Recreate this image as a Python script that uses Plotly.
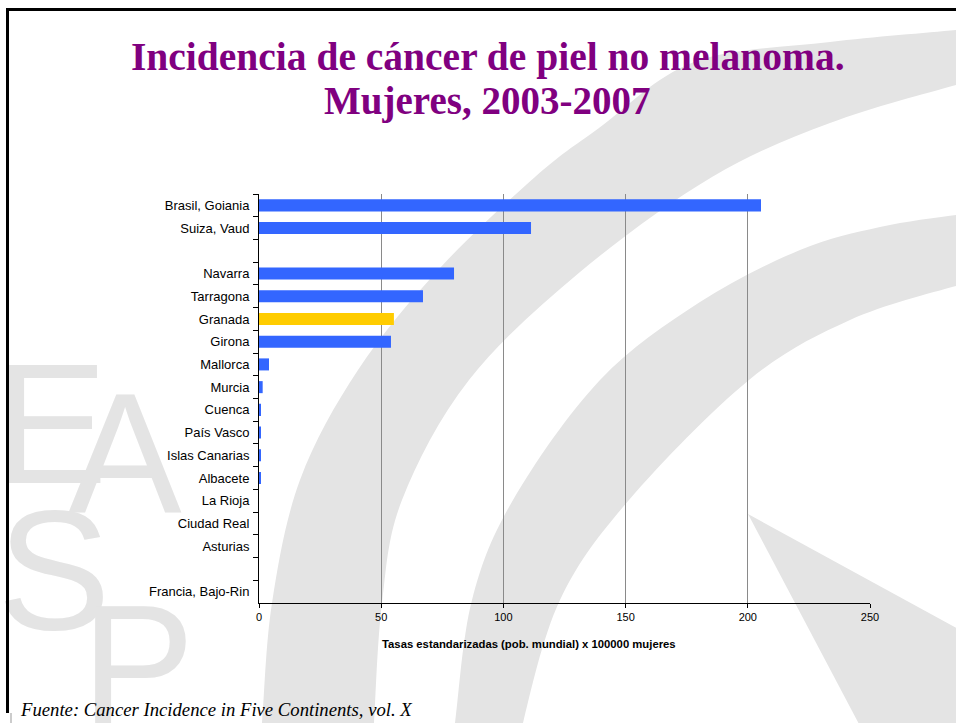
import plotly.graph_objects as go

# ---------------- data ----------------
categories = ["Brasil, Goiania", "Suiza, Vaud", " ", "Navarra", "Tarragona", "Granada",
              "Girona", "Mallorca", "Murcia", "Cuenca", "País Vasco", "Islas Canarias",
              "Albacete", "La Rioja", "Ciudad Real", "Asturias", "  ", "Francia, Bajo-Rin"]
values = [205.4, 111.3, 0, 79.8, 67.1, 55.2, 54.0, 4.1, 1.5, 0.8, 0.8, 0.8, 0.8,
          0, 0, 0, 0, 0]
highlight = "Granada"
x_ticks = [0, 50, 100, 150, 200, 250]

title_line1 = "Incidencia de cáncer de piel no melanoma."
title_line2 = "Mujeres, 2003-2007"
x_title = "Tasas estandarizadas (pob. mundial) x 100000 mujeres"
source = "Fuente: Cancer Incidence in Five Continents, vol. X"

# ---------------- geometry (page pixels) ----------------
W, H = 956, 723
PLOT_L, PLOT_R, PLOT_T, PLOT_B = 259, 870, 194, 603

def curve(points):
    """Catmull-Rom through pixel points -> cubic bezier segments."""
    segs = []
    n = len(points)
    for i in range(n - 1):
        p0 = points[i - 1] if i > 0 else points[i]
        p1 = points[i]
        p2 = points[i + 1]
        p3 = points[i + 2] if i + 2 < n else points[i + 1]
        c1 = (p1[0] + (p2[0] - p0[0]) / 6, p1[1] + (p2[1] - p0[1]) / 6)
        c2 = (p2[0] - (p3[0] - p1[0]) / 6, p2[1] - (p3[1] - p1[1]) / 6)
        segs.append("C %.2f %.2f %.2f %.2f %.2f %.2f" % (c1 + c2 + p2))
    return " ".join(segs)

def band(outer, inner):
    s = "M %.2f %.2f " % outer[0]
    s += curve(outer)
    s += " L %.2f %.2f " % inner[0]
    s += curve(inner)
    return s + " Z"

WM = "#e4e4e4"

bandO_outer = [(1000, 25), (956, 30), (830, 42), (694, 62), (599, 128), (535, 177),
               (440, 268), (358, 370), (300, 480), (272, 603), (262, 723), (258, 760)]
bandO_inner = [(372, 760), (374, 723), (382, 603), (402, 500), (469, 380), (580, 272),
               (712, 177), (830, 123), (956, 85), (1000, 75)]
band2_outer = [(1000, 210), (956, 215), (880, 227), (800, 250), (700, 302), (600, 380),
               (513, 500), (472, 600), (455, 723), (450, 760)]
band2_inner = [(520, 760), (523, 723), (560, 600), (629, 500), (749, 380), (850, 320),
               (956, 286), (1000, 278)]
wedge = [(748, 514), (960, 630), (960, 760), (878, 760)]

def shp(**kw):
    d = dict(xref="x", yref="y")
    d.update(kw)
    return d

shapes = [
    shp(type="path", layer="below", path=band(bandO_outer, bandO_inner),
        fillcolor=WM, line=dict(width=0)),
    shp(type="path", layer="below", path=band(band2_outer, band2_inner),
        fillcolor=WM, line=dict(width=0)),
    shp(type="path", layer="below",
        path="M " + " L ".join("%.2f %.2f" % p for p in wedge) + " Z",
        fillcolor=WM, line=dict(width=0)),
    # slide frame
    shp(type="line", x0=6, x1=960, y0=9.5, y1=9.5, line=dict(color="black", width=3)),
    shp(type="line", x0=7.5, x1=7.5, y0=8, y1=713, line=dict(color="black", width=3)),
    shp(type="line", x0=11, x1=11, y0=713, y1=723, line=dict(color="#999999", width=1)),
]

colors = ["#FFCC00" if c == highlight else "#3366FF" for c in categories]

fig = go.Figure()

# watermark letters on the full-page pixel subplot (drawn first, under the chart)
fig.add_trace(go.Scatter(
    x=[51, 125, 54, 138], y=[440, 469, 586, 681], mode="text",
    text=["E", "A", "S", "P"],
    textfont=dict(family="Liberation Sans", size=170, color=WM),
    xaxis="x", yaxis="y", hoverinfo="skip", showlegend=False, cliponaxis=True))

fig.add_trace(go.Bar(
    x=values, y=categories, orientation="h", xaxis="x2", yaxis="y2",
    marker=dict(color=colors, line=dict(width=0)),
    showlegend=False, hoverinfo="x+y"))

fig.update_layout(
    width=W, height=H, autosize=False,
    margin=dict(l=0, r=0, t=0, b=0, pad=0, autoexpand=False),
    paper_bgcolor="white", plot_bgcolor="rgba(0,0,0,0)",
    bargap=0.47,
    font=dict(family="Liberation Sans", color="black"),
    shapes=shapes,
    xaxis=dict(domain=[0, 1], range=[0, W], visible=False, fixedrange=True,
               automargin=False),
    yaxis=dict(domain=[0, 1], range=[H, 0], visible=False, fixedrange=True,
               automargin=False),
    xaxis2=dict(domain=[PLOT_L / W, PLOT_R / W], anchor="y2", automargin=False,
                range=[0, 250], tickvals=x_ticks, ticks="outside", ticklen=4,
                tickcolor="black", showline=True, linecolor="black", linewidth=1,
                showgrid=True, gridcolor="#8a8a8a", gridwidth=1,
                zeroline=False, tickfont=dict(size=11, color="black")),
    yaxis2=dict(domain=[(H - PLOT_B) / H, (H - PLOT_T) / H], anchor="x2",
                automargin=False,
                type="category", categoryorder="array", categoryarray=categories,
                range=[17.5, -0.5], tickson="boundaries", ticks="outside", ticklen=5,
                ticklabelstandoff=6,
                tickcolor="black", showline=True, linecolor="black", linewidth=1,
                showgrid=False, zeroline=False, tickfont=dict(size=13, color="black")),
    annotations=[
        dict(text="<b>%s</b>" % title_line1, xref="x", yref="y",
             x=488, y=57, xanchor="center", yanchor="middle", showarrow=False,
             font=dict(family="Liberation Serif", size=39.5, color="#800080")),
        dict(text="<b>%s</b>" % title_line2, xref="x", yref="y",
             x=487, y=101, xanchor="center", yanchor="middle", showarrow=False,
             font=dict(family="Liberation Serif", size=39, color="#800080")),
        dict(text="<b>%s</b>" % x_title, xref="x", yref="y",
             x=529, y=644, xanchor="center", yanchor="middle", showarrow=False,
             font=dict(family="Liberation Sans", size=11.3, color="black")),
        dict(text="<i>%s</i>" % source, xref="x", yref="y",
             x=18, y=709, xanchor="left", yanchor="middle", showarrow=False,
             font=dict(family="Liberation Serif", size=18.7, color="black")),
    ],
)

post = ("document.documentElement.style.overflow='hidden';"
        "document.body.style.overflow='hidden';"
        "document.body.style.margin='0px';")

fig.write_html("out.html", post_script=post,
               config={"displayModeBar": False, "responsive": False})
